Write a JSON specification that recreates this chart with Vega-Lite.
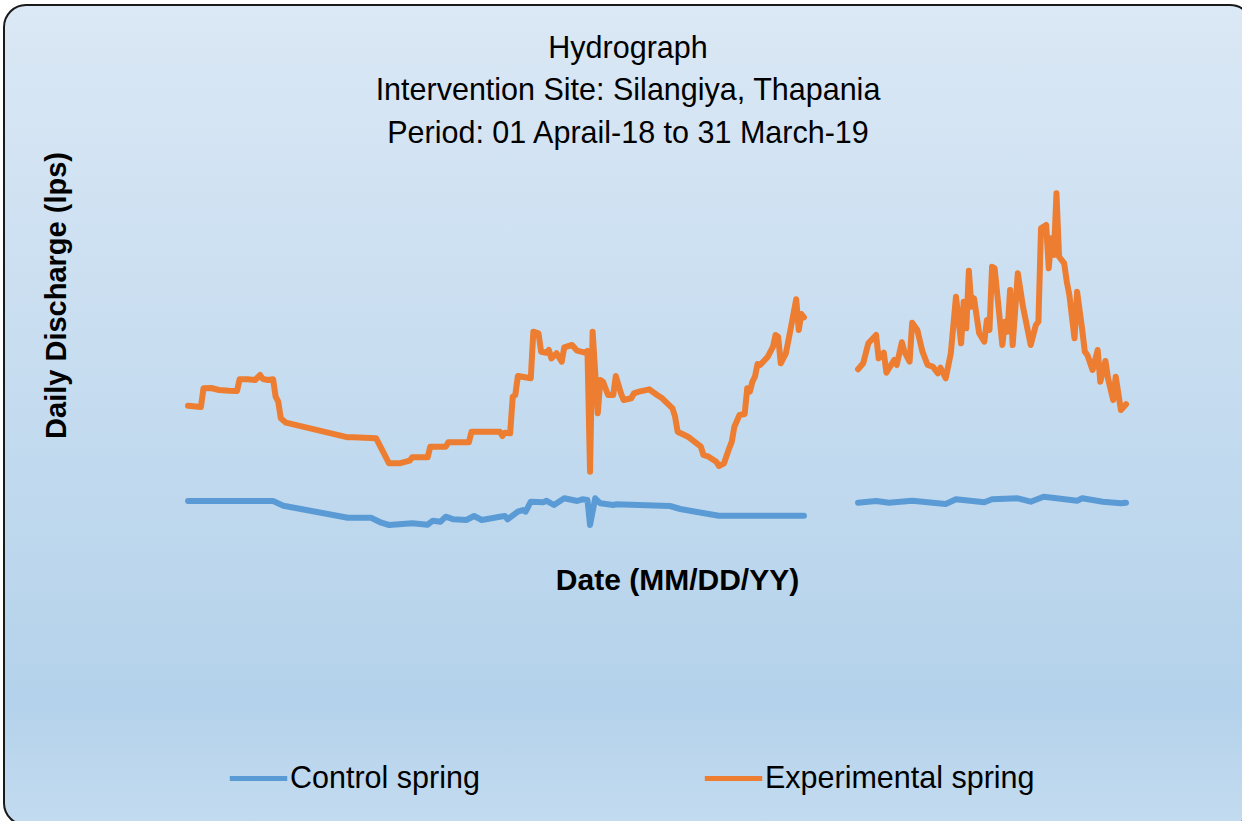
{
  "$schema": "https://vega.github.io/schema/vega-lite/v6.json",
  "width": 1248,
  "height": 820,
  "autosize": {"type": "none"},
  "padding": {"left": 4, "top": 5, "right": -10, "bottom": -4},
  "background": "white",
  "title": {
    "text": ["Hydrograph", "Intervention Site: Silangiya, Thapania", "Period: 01 Aprail-18 to 31 March-19"],
    "anchor": "middle",
    "frame": "group",
    "font": "Liberation Sans",
    "fontSize": 30.5,
    "fontWeight": "normal",
    "color": "#000000",
    "lineHeight": 42.5,
    "baseline": "top",
    "offset": -144
  },
  "datasets": {
    "control": [
      {"date":"2018-04-01","q":0.88},{"date":"2018-05-04","q":0.88},{"date":"2018-05-08","q":0.786},{"date":"2018-06-02","q":0.546},
      {"date":"2018-06-11","q":0.546},{"date":"2018-06-15","q":0.446},{"date":"2018-06-18","q":0.40},{"date":"2018-06-27","q":0.434},
      {"date":"2018-07-03","q":0.406},{"date":"2018-07-05","q":0.486},{"date":"2018-07-08","q":0.466},{"date":"2018-07-10","q":0.566},
      {"date":"2018-07-13","q":0.514},{"date":"2018-07-18","q":0.50},{"date":"2018-07-21","q":0.58},{"date":"2018-07-24","q":0.50},
      {"date":"2018-07-31","q":0.566},{"date":"2018-08-02","q":0.58},{"date":"2018-08-03","q":0.514},{"date":"2018-08-07","q":0.666},
      {"date":"2018-08-09","q":0.70},{"date":"2018-08-10","q":0.666},{"date":"2018-08-12","q":0.866},{"date":"2018-08-17","q":0.854},
      {"date":"2018-08-18","q":0.886},{"date":"2018-08-21","q":0.80},{"date":"2018-08-25","q":0.934},{"date":"2018-08-30","q":0.88},
      {"date":"2018-09-01","q":0.914},{"date":"2018-09-03","q":0.90},{"date":"2018-09-04","q":0.40},{"date":"2018-09-06","q":0.934},
      {"date":"2018-09-08","q":0.834},{"date":"2018-09-13","q":0.80},{"date":"2018-09-14","q":0.814},{"date":"2018-09-23","q":0.80},
      {"date":"2018-10-05","q":0.78},{"date":"2018-10-09","q":0.72},{"date":"2018-10-15","q":0.666},{"date":"2018-10-24","q":0.586},
      {"date":"2018-11-26","q":0.586},{"date":"2018-12-01","q":null},
      {"date":"2018-12-17","q":0.846},{"date":"2018-12-24","q":0.88},{"date":"2018-12-29","q":0.846},{"date":"2019-01-07","q":0.886},
      {"date":"2019-01-20","q":0.82},{"date":"2019-01-24","q":0.914},{"date":"2019-02-04","q":0.854},{"date":"2019-02-07","q":0.914},
      {"date":"2019-02-17","q":0.934},{"date":"2019-02-22","q":0.866},{"date":"2019-02-27","q":0.966},{"date":"2019-03-04","q":0.934},
      {"date":"2019-03-12","q":0.886},{"date":"2019-03-14","q":0.934},{"date":"2019-03-22","q":0.866},{"date":"2019-03-29","q":0.834},
      {"date":"2019-03-31","q":0.846}
    ],
    "experimental": [
      {"date":"2018-04-01","q":2.786},{"date":"2018-04-05","q":2.766},{"date":"2018-04-06","q":2.76},{"date":"2018-04-07","q":3.134},
      {"date":"2018-04-10","q":3.14},{"date":"2018-04-13","q":3.10},{"date":"2018-04-17","q":3.086},{"date":"2018-04-20","q":3.08},
      {"date":"2018-04-21","q":3.314},{"date":"2018-04-24","q":3.314},{"date":"2018-04-27","q":3.30},{"date":"2018-04-29","q":3.40},
      {"date":"2018-04-30","q":3.32},{"date":"2018-05-02","q":3.30},{"date":"2018-05-04","q":3.314},{"date":"2018-05-05","q":2.966},
      {"date":"2018-05-06","q":2.866},{"date":"2018-05-07","q":2.534},{"date":"2018-05-09","q":2.446},{"date":"2018-05-20","q":2.314},
      {"date":"2018-06-02","q":2.154},{"date":"2018-06-04","q":2.154},{"date":"2018-06-13","q":2.134},{"date":"2018-06-15","q":1.934},
      {"date":"2018-06-18","q":1.634},{"date":"2018-06-22","q":1.634},{"date":"2018-06-26","q":1.686},{"date":"2018-06-27","q":1.754},
      {"date":"2018-07-03","q":1.754},{"date":"2018-07-04","q":1.966},{"date":"2018-07-10","q":1.966},{"date":"2018-07-11","q":2.054},
      {"date":"2018-07-19","q":2.054},{"date":"2018-07-20","q":2.266},{"date":"2018-07-31","q":2.266},{"date":"2018-08-01","q":2.18},
      {"date":"2018-08-02","q":2.246},{"date":"2018-08-04","q":2.234},{"date":"2018-08-05","q":2.966},{"date":"2018-08-06","q":3.00},
      {"date":"2018-08-07","q":3.38},{"date":"2018-08-12","q":3.334},{"date":"2018-08-13","q":4.266},{"date":"2018-08-15","q":4.234},
      {"date":"2018-08-16","q":3.866},{"date":"2018-08-18","q":3.846},{"date":"2018-08-19","q":3.90},{"date":"2018-08-20","q":3.734},
      {"date":"2018-08-22","q":3.834},{"date":"2018-08-24","q":3.666},{"date":"2018-08-25","q":3.954},{"date":"2018-08-28","q":4.00},
      {"date":"2018-08-30","q":3.886},{"date":"2018-09-02","q":3.846},{"date":"2018-09-03","q":3.88},{"date":"2018-09-04","q":1.466},
      {"date":"2018-09-05","q":4.266},{"date":"2018-09-07","q":2.634},{"date":"2018-09-08","q":3.30},{"date":"2018-09-09","q":3.266},
      {"date":"2018-09-11","q":3.00},{"date":"2018-09-13","q":3.00},{"date":"2018-09-14","q":3.38},{"date":"2018-09-16","q":3.034},
      {"date":"2018-09-17","q":2.90},{"date":"2018-09-20","q":2.934},{"date":"2018-09-21","q":3.034},{"date":"2018-09-23","q":3.066},
      {"date":"2018-09-27","q":3.114},{"date":"2018-09-30","q":3.00},{"date":"2018-10-02","q":2.934},{"date":"2018-10-04","q":2.834},
      {"date":"2018-10-06","q":2.734},{"date":"2018-10-07","q":2.566},{"date":"2018-10-08","q":2.266},{"date":"2018-10-12","q":2.166},
      {"date":"2018-10-15","q":2.046},{"date":"2018-10-17","q":1.966},{"date":"2018-10-18","q":1.80},{"date":"2018-10-20","q":1.766},
      {"date":"2018-10-23","q":1.666},{"date":"2018-10-24","q":1.58},{"date":"2018-10-26","q":1.634},{"date":"2018-10-28","q":1.934},
      {"date":"2018-10-29","q":2.066},{"date":"2018-10-30","q":2.366},{"date":"2018-11-01","q":2.60},{"date":"2018-11-03","q":2.62},
      {"date":"2018-11-04","q":3.134},{"date":"2018-11-05","q":3.066},{"date":"2018-11-06","q":3.266},{"date":"2018-11-07","q":3.366},
      {"date":"2018-11-08","q":3.62},{"date":"2018-11-09","q":3.60},{"date":"2018-11-12","q":3.766},{"date":"2018-11-14","q":3.966},
      {"date":"2018-11-15","q":4.20},{"date":"2018-11-16","q":4.166},{"date":"2018-11-17","q":3.634},{"date":"2018-11-19","q":3.834},
      {"date":"2018-11-21","q":4.366},{"date":"2018-11-23","q":4.914},{"date":"2018-11-24","q":4.30},{"date":"2018-11-25","q":4.62},
      {"date":"2018-11-26","q":4.554},{"date":"2018-12-01","q":null},
      {"date":"2018-12-17","q":3.514},{"date":"2018-12-19","q":3.634},{"date":"2018-12-21","q":4.034},{"date":"2018-12-24","q":4.20},
      {"date":"2018-12-25","q":3.734},{"date":"2018-12-27","q":3.846},{"date":"2018-12-28","q":3.446},{"date":"2018-12-29","q":3.534},
      {"date":"2018-12-31","q":3.70},{"date":"2019-01-01","q":3.60},{"date":"2019-01-03","q":4.054},{"date":"2019-01-04","q":3.866},
      {"date":"2019-01-06","q":3.666},{"date":"2019-01-07","q":4.446},{"date":"2019-01-09","q":4.30},{"date":"2019-01-11","q":3.866},
      {"date":"2019-01-13","q":3.60},{"date":"2019-01-15","q":3.566},{"date":"2019-01-17","q":3.434},{"date":"2019-01-18","q":3.546},
      {"date":"2019-01-20","q":3.334},{"date":"2019-01-22","q":3.834},{"date":"2019-01-24","q":4.966},{"date":"2019-01-26","q":4.034},
      {"date":"2019-01-27","q":4.866},{"date":"2019-01-28","q":4.334},{"date":"2019-01-29","q":5.486},{"date":"2019-01-30","q":4.766},
      {"date":"2019-01-31","q":4.934},{"date":"2019-02-02","q":4.234},{"date":"2019-02-04","q":4.066},{"date":"2019-02-05","q":4.50},
      {"date":"2019-02-06","q":4.30},{"date":"2019-02-07","q":5.566},{"date":"2019-02-08","q":5.534},{"date":"2019-02-11","q":4.00},
      {"date":"2019-02-12","q":4.466},{"date":"2019-02-13","q":4.266},{"date":"2019-02-14","q":5.10},{"date":"2019-02-15","q":4.00},
      {"date":"2019-02-17","q":5.434},{"date":"2019-02-19","q":4.766},{"date":"2019-02-22","q":4.00},{"date":"2019-02-24","q":4.40},
      {"date":"2019-02-25","q":4.466},{"date":"2019-02-26","q":6.334},{"date":"2019-02-28","q":6.40},{"date":"2019-03-01","q":5.534},
      {"date":"2019-03-02","q":6.134},{"date":"2019-03-03","q":5.80},{"date":"2019-03-04","q":7.034},{"date":"2019-03-05","q":5.766},
      {"date":"2019-03-07","q":5.634},{"date":"2019-03-08","q":5.266},{"date":"2019-03-09","q":5.00},{"date":"2019-03-11","q":4.134},
      {"date":"2019-03-12","q":5.066},{"date":"2019-03-14","q":4.30},{"date":"2019-03-15","q":3.866},{"date":"2019-03-16","q":3.80},
      {"date":"2019-03-18","q":3.50},{"date":"2019-03-20","q":3.90},{"date":"2019-03-21","q":3.266},{"date":"2019-03-23","q":3.68},
      {"date":"2019-03-24","q":3.334},{"date":"2019-03-26","q":2.90},{"date":"2019-03-27","q":3.366},{"date":"2019-03-29","q":2.70},
      {"date":"2019-03-31","q":2.814}
    ]
  },
  "encoding": {
    "x": {
      "field": "date",
      "type": "temporal",
      "title": "Date (MM/DD/YY)",
      "scale": {
        "type": "utc",
        "domain": [
          {"year": 2018, "month": 1, "date": 19, "hours": 14, "utc": true},
          {"year": 2019, "month": 5, "date": 18, "hours": 21, "utc": true}
        ]
      },
      "axis": {
        "labels": false, "ticks": false, "domain": false, "grid": false,
        "titleFont": "Liberation Sans", "titleFontSize": 30, "titleFontWeight": "bold", "titleColor": "#000000",
        "titleX": 673, "titleY": -236, "titleAlign": "center", "titleBaseline": "alphabetic"
      }
    },
    "y": {
      "field": "q",
      "type": "quantitative",
      "title": "Daily Discharge (lps)",
      "scale": {"domain": [-5.6, 10.8], "nice": false, "zero": false},
      "axis": {
        "labels": false, "ticks": false, "domain": false, "grid": false,
        "titleFont": "Liberation Sans", "titleFontSize": 29, "titleFontWeight": "bold", "titleColor": "#000000",
        "titleAngle": -90, "titleX": 61, "titleY": 290, "titleAlign": "center", "titleBaseline": "alphabetic"
      }
    },
    "color": {
      "type": "nominal",
      "scale": {"domain": ["Control spring", "Experimental spring"], "range": ["#5b9bd5", "#ed7d31"]},
      "legend": {
        "title": null,
        "orient": "none",
        "direction": "horizontal",
        "legendX": 223,
        "legendY": 742,
        "symbolType": "stroke",
        "symbolSize": 3300,
        "symbolStrokeWidth": 5,
        "labelFont": "Liberation Sans",
        "labelFontSize": 30.5,
        "labelColor": "#000000",
        "labelOffset": 0,
        "columnPadding": 214,
        "labelLimit": 400
      }
    }
  },
  "layer": [
    {
      "data": {"name": "control"},
      "mark": {"type": "line", "strokeWidth": 6, "strokeCap": "round", "strokeJoin": "round"},
      "encoding": {"color": {"datum": "Control spring"}}
    },
    {
      "data": {"name": "experimental"},
      "mark": {"type": "line", "strokeWidth": 6, "strokeCap": "round", "strokeJoin": "round"},
      "encoding": {"color": {"datum": "Experimental spring"}}
    }
  ],
  "config": {
    "view": {
      "stroke": "#1a1a1a",
      "strokeWidth": 2,
      "cornerRadius": 22,
      "fill": {
        "gradient": "linear",
        "x1": 0, "y1": 0, "x2": 0, "y2": 1,
        "stops": [
          {"offset": 0, "color": "#dbe8f5"},
          {"offset": 0.85, "color": "#b4d2eb"},
          {"offset": 1, "color": "#c3dbf0"}
        ]
      }
    }
  }
}
